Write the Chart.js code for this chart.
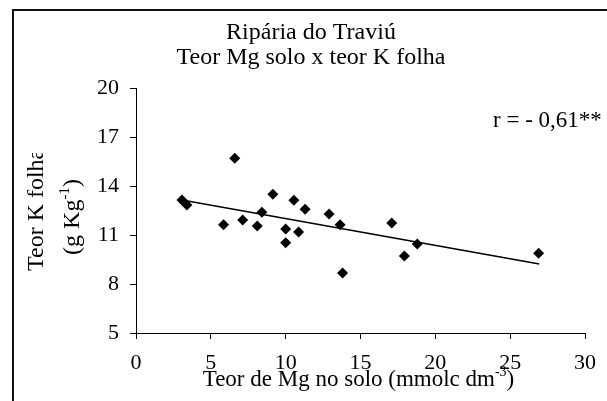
<!DOCTYPE html>
<html>
<head>
<meta charset="utf-8">
<title>Ripária do Traviú</title>
<script src="https://cdn.jsdelivr.net/npm/chart.js@4.4.0/dist/chart.umd.min.js"></script>
<style>
  html, body { margin: 0; padding: 0; background: #fff; }
  #wrap { width: 607px; height: 401px; }
</style>
</head>
<body>
<div id="wrap"><canvas id="mgChart" width="607" height="401"></canvas></div>
<script>
// Mg no solo (mmolc dm-3) x K na folha (g Kg-1)
const mgSolo = [3.07, 3.4, 6.6, 5.85, 7.13, 8.1, 8.41, 9.14, 10.0, 10.0, 10.55, 10.86, 11.3, 12.9, 13.64, 13.8, 17.09, 17.93, 18.79, 26.9];
const kFolha = [13.15, 12.84, 15.7, 11.63, 11.92, 11.55, 12.39, 13.49, 11.37, 10.53, 13.12, 11.18, 12.57, 12.28, 11.63, 8.67, 11.73, 9.71, 10.45, 9.88];

// linha de tendencia (extremos)
const trendX = [3.07, 26.95];
const trendY = [13.14, 9.22];

const xTicks = [0, 5, 10, 15, 20, 25, 30];
const yTicks = [5, 8, 11, 14, 17, 20];

const serif = "'Liberation Serif', 'Times New Roman', serif";

// draws text pieces, some of them as superscript
function drawRich(ctx, parts, x, y, size, align) {
  const supSize = Math.round(size * 0.62);
  let total = 0;
  parts.forEach(p => {
    ctx.font = (p[1] ? supSize : size) + "px " + serif;
    total += ctx.measureText(p[0]).width;
  });
  let cx = align === "center" ? x - total / 2 : x;
  ctx.textAlign = "left";
  ctx.textBaseline = "alphabetic";
  parts.forEach(p => {
    ctx.font = (p[1] ? supSize : size) + "px " + serif;
    ctx.fillText(p[0], cx, p[1] ? y - size * 0.42 : y);
    cx += ctx.measureText(p[0]).width;
  });
}

const decorations = {
  id: "decorations",
  afterDraw(chart) {
    const ctx = chart.ctx;
    const area = chart.chartArea;
    ctx.save();
    ctx.fillStyle = "#000";

    // moldura (so esquerda e topo aparecem)
    ctx.strokeStyle = "#111";
    ctx.lineWidth = 2;
    ctx.beginPath();
    ctx.moveTo(13, 401);
    ctx.lineTo(13, 10);
    ctx.lineTo(607, 10);
    ctx.stroke();

    // titulo
    drawRich(ctx, [["Ripária do Traviú", 0]], 311, 39, 24, "center");
    drawRich(ctx, [["Teor Mg solo x teor K folha", 0]], 311, 64, 24, "center");

    // r
    drawRich(ctx, [["r = - 0,61**", 0]], 493, 127, 23, "left");

    // eixo x
    drawRich(ctx, [["Teor de Mg no solo (mmolc dm", 0], ["-3", 1], [")", 0]],
      (area.left + area.right) / 2 - 2, 386, 23, "center");

    // eixo y (rotacionado), a primeira linha fica cortada como no original
    ctx.save();
    ctx.beginPath();
    ctx.rect(0, 153, 60, 248);
    ctx.clip();
    ctx.translate(43, 271);
    ctx.rotate(-Math.PI / 2);
    drawRich(ctx, [["Teor K folha", 0]], 0, 0, 24, "left");
    ctx.restore();

    ctx.save();
    ctx.translate(79, 217);
    ctx.rotate(-Math.PI / 2);
    drawRich(ctx, [["(g Kg", 0], ["-1", 1], [")", 0]], 0, 0, 24, "center");
    ctx.restore();

    ctx.restore();
  }
};

const points = mgSolo.map((x, i) => ({ x: x, y: kFolha[i] }));
const trend = trendX.map((x, i) => ({ x: x, y: trendY[i] }));

new Chart(document.getElementById("mgChart"), {
  type: "scatter",
  data: {
    datasets: [
      {
        type: "line",
        data: trend,
        borderColor: "#000",
        borderWidth: 1.6,
        pointRadius: 0,
        fill: false
      },
      {
        data: points,
        pointStyle: "rectRot",
        pointRadius: 5.5,
        backgroundColor: "#000",
        borderColor: "#000",
        borderWidth: 0
      }
    ]
  },
  options: {
    responsive: false,
    animation: false,
    layout: { padding: { left: 0, top: 88, right: 18, bottom: 0 } },
    plugins: {
      legend: { display: false },
      tooltip: { enabled: false },
      title: { display: false }
    },
    scales: {
      x: {
        type: "linear",
        min: 0,
        max: 30,
        afterBuildTicks: s => { s.ticks = xTicks.map(v => ({ value: v })); },
        afterFit: s => { s.height = 68; },
        grid: { drawOnChartArea: false, drawTicks: true, tickLength: 6, color: "#000" },
        border: { color: "#000", width: 1 },
        ticks: { color: "#000", padding: 11, maxRotation: 0, font: { family: serif, size: 22 } }
      },
      y: {
        type: "linear",
        min: 5,
        max: 20,
        afterBuildTicks: s => { s.ticks = yTicks.map(v => ({ value: v })); },
        afterFit: s => { s.width = 136; },
        grid: { drawOnChartArea: false, drawTicks: true, tickLength: 6, color: "#000" },
        border: { color: "#000", width: 1 },
        ticks: { color: "#000", padding: 11, font: { family: serif, size: 22 } }
      }
    }
  },
  plugins: [decorations]
});
</script>
</body>
</html>
